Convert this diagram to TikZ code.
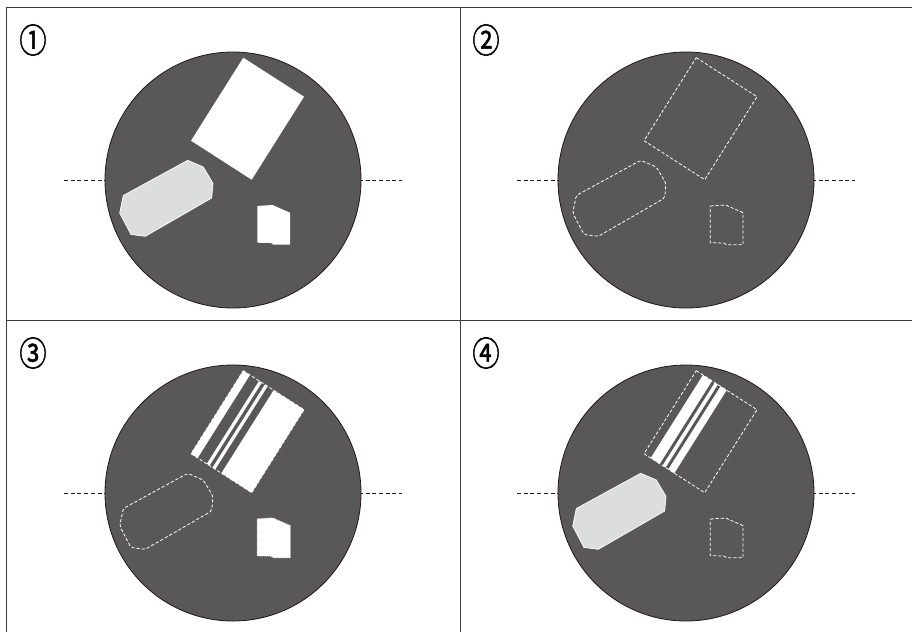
\documentclass[tikz,border=0pt]{standalone}
\usepackage{fontspec}
\newfontfamily\cjk[FakeBold=1.6]{Noto Sans CJK JP}
\usetikzlibrary{calc}
\definecolor{discgray}{HTML}{595757}
\definecolor{palegray}{HTML}{DCDDDD}
\definecolor{rimcol}{HTML}{231815}
\definecolor{framecol}{HTML}{3E3A39}
\tikzset{
  framestyle/.style={draw=framecol, line width=1pt},
  discstyle/.style={fill=discgray, draw=rimcol, line width=0.8pt},
  axisstyle/.style={draw=rimcol, line width=0.7pt, dash pattern=on 4pt off 2.7pt},
  wdash/.style={draw=white, line width=0.8pt, dash pattern=on 3.2pt off 2pt},
  wdashround/.style={wdash, rounded corners=2pt},
  roughwhite/.style={fill=white, draw=white, line width=1pt, dash pattern=on 1.2pt off 0.8pt},
  palefill/.style={fill=palegray, draw=white, line width=0.7pt},
  whitefill/.style={fill=white},
  numlabel/.style={font=\cjk\fontsize{34}{34}\selectfont, inner sep=0pt, text=black}
}
\newcommand\hexshape[1]{\path[#1] (187.7,160.3) -- (203.3,167) -- (213,183.3) -- (211.7,198) -- (145.3,236.3) -- (131,234.5) -- (119.7,213) -- (123.3,195.5) -- cycle;}
\newcommand\smallshape[1]{\path[#1] (257.3,206) -- (272.5,205) -- (290,212.7) -- (290,244.7) -- (273.5,244.7) -- (271,243) -- (257.3,242.7) -- cycle;}
\newcommand\rectcoords{%
  \coordinate (A) at (243.3,57.7);
  \coordinate (B) at (304,96.7);
  \coordinate (L) at (191,140.7);
  \coordinate (C) at (251.7,179.7);}
\newcommand\rectshape[1]{\path[#1] (A) -- (B) -- (C) -- (L) -- cycle;}
\newcommand\stripe[3]{\path[#3] ($(A)!#1!(B)$) -- ($(A)!#2!(B)$) -- ($(L)!#2!(C)$) -- ($(L)!#1!(C)$) -- cycle;}
\newcommand\panelbase{%
  \draw[axisstyle] (64,180) -- (402,180);
  \path[discstyle] (233,180) circle[radius=128];}
\begin{document}
\begin{tikzpicture}[x=1pt,y=-1pt]
\useasboundingbox (0,0) rectangle (912,632);
\fill[white] (0,0) rectangle (912,632);
% frame
\draw[framestyle] (912,7) -- (6,7) -- (6,632);
\draw[framestyle] (460,7) -- (460,632);
\draw[framestyle] (6,320) -- (912,320);
% panel 1
\begin{scope}
  \panelbase
  \rectcoords
  \rectshape{whitefill}
  \hexshape{palefill}
  \smallshape{whitefill}
  \node[numlabel] (lab1) at (33,40) {\scalebox{0.8}[1]{①}};
\end{scope}
% panel 2
\begin{scope}[shift={(453,0)}]
  \panelbase
  \rectcoords
  \rectshape{wdash}
  \hexshape{wdashround}
  \smallshape{wdash}
  \node[numlabel] (lab2) at (33,40) {\scalebox{0.8}[1]{②}};
\end{scope}
% panel 3
\begin{scope}[shift={(0,313)}]
  \panelbase
  \rectcoords
  \stripe{0}{0.11}{whitefill}
  \stripe{0.26}{0.305}{whitefill}
  \stripe{0.355}{0.40}{whitefill}
  \stripe{0.50}{1}{whitefill}
  \rectshape{wdash}
  \hexshape{wdashround}
  \smallshape{roughwhite}
  \node[numlabel] (lab3) at (33,40) {\scalebox{0.8}[1]{③}};
\end{scope}
% panel 4
\begin{scope}[shift={(453,313)}]
  \panelbase
  \rectcoords
  \stripe{0.11}{0.26}{whitefill}
  \stripe{0.305}{0.355}{whitefill}
  \stripe{0.40}{0.50}{whitefill}
  \rectshape{wdash}
  \hexshape{palefill}
  \smallshape{wdash}
  \node[numlabel] (lab4) at (33,40) {\scalebox{0.8}[1]{④}};
\end{scope}
\end{tikzpicture}
\end{document}
